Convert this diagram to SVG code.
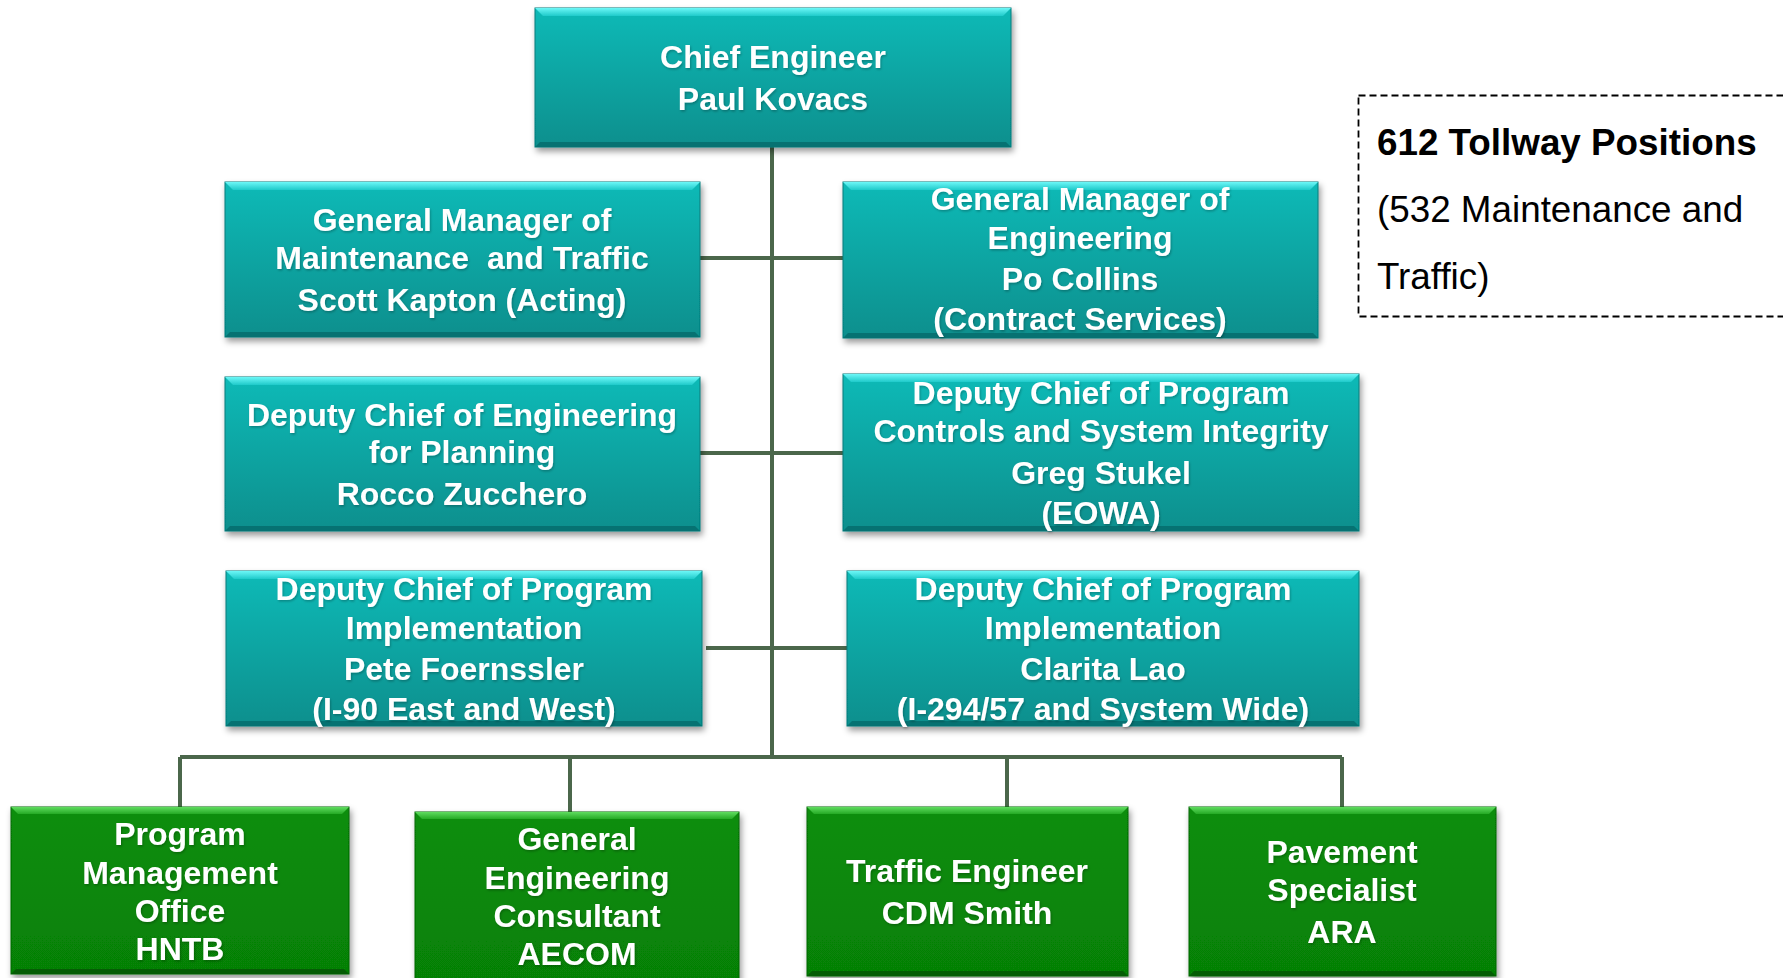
<svg xmlns="http://www.w3.org/2000/svg" width="1783" height="978" viewBox="0 0 1783 978">
<defs>
<linearGradient id="tealBody" x1="0" y1="0" x2="0" y2="1">
<stop offset="0" stop-color="#0abab7"/><stop offset="1" stop-color="#078f8d"/>
</linearGradient>
<linearGradient id="tealTop" x1="0" y1="0" x2="0" y2="1">
<stop offset="0" stop-color="#6cf7f7"/><stop offset="1" stop-color="#1fcaca"/>
</linearGradient>
<linearGradient id="greenBody" x1="0" y1="0" x2="0" y2="1">
<stop offset="0" stop-color="#0a8e0a"/><stop offset="1" stop-color="#068006"/>
</linearGradient>
<linearGradient id="greenTop" x1="0" y1="0" x2="0" y2="1">
<stop offset="0" stop-color="#5fdc5f"/><stop offset="1" stop-color="#25aa25"/>
</linearGradient>
<filter id="shadow" x="-10%" y="-10%" width="120%" height="130%">
<feDropShadow dx="2" dy="4" stdDeviation="3" flood-color="#000" flood-opacity="0.4"/>
</filter>
<filter id="tshadow" x="-5%" y="-20%" width="110%" height="140%">
<feDropShadow dx="1" dy="1.5" stdDeviation="0.8" flood-color="#000" flood-opacity="0.25"/>
</filter>
</defs>
<style>
.conn{fill:none;stroke:#4b674b;stroke-width:4}
.tb{fill:url(#tealBody);stroke:#077a7a;stroke-width:1}
.tt{fill:url(#tealTop)}
.tbb{fill:#067272}
.gb{fill:url(#greenBody);stroke:#056605;stroke-width:1}
.gt{fill:url(#greenTop)}
.gbb{fill:#055c05}
.box{filter:url(#shadow)}
.lbl{font-family:"Liberation Sans",Arial,sans-serif;font-weight:bold;font-size:32px;fill:#fff;text-anchor:middle;white-space:pre;filter:url(#tshadow)}
.note{font-family:"Liberation Sans",Arial,sans-serif;font-size:36.8px;fill:#000}
.noteB{font-weight:bold}
.dash{fill:none;stroke:#000;stroke-width:1.8;stroke-dasharray:7 4}
</style>
<rect width="1783" height="978" fill="#fff"/>
<g id="connectors">
<path class="conn" d="M772 147V757"/>
<path class="conn" d="M700 258H843"/>
<path class="conn" d="M700 453H843"/>
<path class="conn" d="M706 648H847"/>
<path class="conn" d="M180 757H1342"/>
<path class="conn" d="M180 757V807M570 757V812M1007 757V807M1342 757V807"/>
</g>
<g id="chief">
<g class="box"><rect class="tb" x="535" y="8" width="476" height="139"/></g>
<polygon class="tt" points="535,8 1011,8 1003,16 543,16"/>
<polygon class="tbb" points="535,147 1011,147 1006,142 540,142"/>
<text class="lbl" x="773" y="68">Chief Engineer</text>
<text class="lbl" x="773" y="110">Paul Kovacs</text>
</g>
<g id="gm-maintenance">
<g class="box"><rect class="tb" x="225" y="182" width="475" height="155"/></g>
<polygon class="tt" points="225,182 700,182 692,190 233,190"/>
<polygon class="tbb" points="225,337 700,337 695,332 230,332"/>
<text class="lbl" x="462" y="231">General Manager of</text>
<text class="lbl" x="462" y="269">Maintenance  and Traffic</text>
<text class="lbl" x="462" y="311">Scott Kapton (Acting)</text>
</g>
<g id="gm-engineering">
<g class="box"><rect class="tb" x="843" y="182" width="475" height="156"/></g>
<polygon class="tt" points="843,182 1318,182 1310,190 851,190"/>
<polygon class="tbb" points="843,338 1318,338 1313,333 848,333"/>
<text class="lbl" x="1080" y="210">General Manager of</text>
<text class="lbl" x="1080" y="249">Engineering</text>
<text class="lbl" x="1080" y="290">Po Collins</text>
<text class="lbl" x="1080" y="330">(Contract Services)</text>
</g>
<g id="dc-planning">
<g class="box"><rect class="tb" x="225" y="377" width="475" height="154"/></g>
<polygon class="tt" points="225,377 700,377 692,385 233,385"/>
<polygon class="tbb" points="225,531 700,531 695,526 230,526"/>
<text class="lbl" x="462" y="426">Deputy Chief of Engineering</text>
<text class="lbl" x="462" y="463">for Planning</text>
<text class="lbl" x="462" y="505">Rocco Zucchero</text>
</g>
<g id="dc-controls">
<g class="box"><rect class="tb" x="843" y="374" width="516" height="157"/></g>
<polygon class="tt" points="843,374 1359,374 1351,382 851,382"/>
<polygon class="tbb" points="843,531 1359,531 1354,526 848,526"/>
<text class="lbl" x="1101" y="403.5">Deputy Chief of Program</text>
<text class="lbl" x="1101" y="442">Controls and System Integrity</text>
<text class="lbl" x="1101" y="483.5">Greg Stukel</text>
<text class="lbl" x="1101" y="524">(EOWA)</text>
</g>
<g id="dc-implementation-west">
<g class="box"><rect class="tb" x="226" y="571" width="476" height="155"/></g>
<polygon class="tt" points="226,571 702,571 694,579 234,579"/>
<polygon class="tbb" points="226,726 702,726 697,721 231,721"/>
<text class="lbl" x="464" y="600">Deputy Chief of Program</text>
<text class="lbl" x="464" y="639">Implementation</text>
<text class="lbl" x="464" y="680">Pete Foernssler</text>
<text class="lbl" x="464" y="720">(I-90 East and West)</text>
</g>
<g id="dc-implementation-system">
<g class="box"><rect class="tb" x="847" y="571" width="512" height="155"/></g>
<polygon class="tt" points="847,571 1359,571 1351,579 855,579"/>
<polygon class="tbb" points="847,726 1359,726 1354,721 852,721"/>
<text class="lbl" x="1103" y="600">Deputy Chief of Program</text>
<text class="lbl" x="1103" y="639">Implementation</text>
<text class="lbl" x="1103" y="680">Clarita Lao</text>
<text class="lbl" x="1103" y="720">(I-294/57 and System Wide)</text>
</g>
<g id="pmo">
<g class="box"><rect class="gb" x="11" y="807" width="338" height="167"/></g>
<polygon class="gt" points="11,807 349,807 342,814 18,814"/>
<polygon class="gbb" points="11,974 349,974 344,969 16,969"/>
<text class="lbl" x="180" y="845">Program</text>
<text class="lbl" x="180" y="884">Management</text>
<text class="lbl" x="180" y="922">Office</text>
<text class="lbl" x="180" y="960">HNTB</text>
</g>
<g id="gec">
<g class="box"><rect class="gb" x="415" y="812" width="324" height="172"/></g>
<polygon class="gt" points="415,812 739,812 732,819 422,819"/>
<text class="lbl" x="577" y="850">General</text>
<text class="lbl" x="577" y="889">Engineering</text>
<text class="lbl" x="577" y="927">Consultant</text>
<text class="lbl" x="577" y="965">AECOM</text>
</g>
<g id="traffic-engineer">
<g class="box"><rect class="gb" x="807" y="807" width="321" height="169"/></g>
<polygon class="gt" points="807,807 1128,807 1121,814 814,814"/>
<polygon class="gbb" points="807,976 1128,976 1123,971 812,971"/>
<text class="lbl" x="967" y="882">Traffic Engineer</text>
<text class="lbl" x="967" y="924">CDM Smith</text>
</g>
<g id="pavement-specialist">
<g class="box"><rect class="gb" x="1189" y="807" width="307" height="169"/></g>
<polygon class="gt" points="1189,807 1496,807 1489,814 1196,814"/>
<polygon class="gbb" points="1189,976 1496,976 1491,971 1194,971"/>
<text class="lbl" x="1342" y="863">Pavement</text>
<text class="lbl" x="1342" y="901">Specialist</text>
<text class="lbl" x="1342" y="943">ARA</text>
</g>
<g id="positions-note">
<rect class="dash" x="1358.5" y="95.5" width="460" height="221"/>
<text class="note noteB" x="1377" y="155">612 Tollway Positions</text>
<text class="note" x="1377" y="222">(532 Maintenance and</text>
<text class="note" x="1377" y="289">Traffic)</text>
</g>
</svg>
